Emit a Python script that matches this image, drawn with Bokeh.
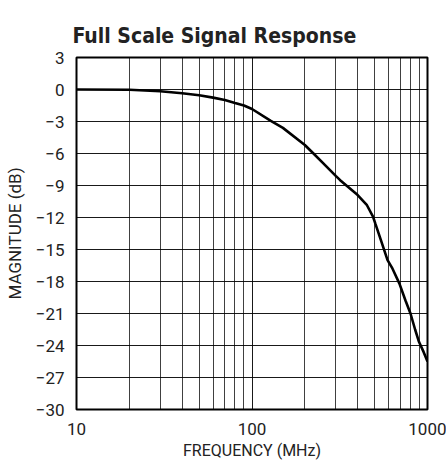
from bokeh.plotting import figure
from bokeh.models import FixedTicker, Title, Range1d, LinearAxis
from bokeh.embed import file_html
from bokeh.resources import INLINE

# data
freq_mhz = [10, 20, 30, 40, 50, 60, 70, 80, 90, 100, 128, 150, 200, 224, 260, 300,
            318, 400, 452, 490, 505, 542, 592, 632, 692, 750, 800, 850, 894, 950, 1000]
magnitude_db = [0.0, -0.03, -0.16, -0.35, -0.54, -0.76, -0.98, -1.26, -1.5, -1.83, -2.95,
                -3.6, -5.2, -6.0, -7.07, -8.1, -8.5, -9.9, -10.85, -11.95, -12.6, -14.1,
                -16.0, -16.8, -18.2, -19.8, -21.0, -22.5, -23.65, -24.6, -25.5]

x_major = [10, 100, 1000]
x_minor = [20, 30, 40, 50, 60, 70, 80, 90, 200, 300, 400, 500, 600, 700, 800, 900]
y_ticks = list(range(-30, 4, 3))

TITLE_FONT = "DejaVu Sans Condensed"
FONT = "Roboto"

p = figure(width=446, height=462, x_axis_type="log", output_backend="svg",
           toolbar_location=None, x_range=Range1d(10, 1000), y_range=Range1d(-30, 3),
           min_border_left=76, min_border_right=19, min_border_top=57, min_border_bottom=53)

xax = p.below[0]
yax = p.left[0]
xax.ticker = FixedTicker(ticks=x_major, minor_ticks=x_minor)
yax.ticker = FixedTicker(ticks=y_ticks)

# empty, invisible axis used only as a spacer between the frame and the title
spacer = LinearAxis(ticker=FixedTicker(ticks=[]), axis_line_color=None,
                    major_tick_line_color=None, minor_tick_line_color=None,
                    major_tick_in=0, major_tick_out=16, minor_tick_in=0, minor_tick_out=0,
                    major_label_standoff=0)
p.add_layout(spacer, "above")
p.add_layout(Title(text="Full Scale Signal Response", text_font=TITLE_FONT, text_font_size="21px",
                   text_font_style="bold", text_color="#222222", align="left", offset=-4,
                   vertical_align="top", standoff=16), "above")

p.line(freq_mhz, magnitude_db, line_color="black", line_width=2.6)

yax.major_label_overrides = {v: (str(v).replace("-", "\u2212")) for v in y_ticks}
xax.major_label_overrides = {v: str(v) for v in x_major}

for ax in (xax, yax):
    ax.axis_line_color = None
    ax.major_tick_line_color = None
    ax.minor_tick_line_color = None
    ax.major_tick_out = 0
    ax.minor_tick_out = 0
    ax.major_label_text_font = FONT
    ax.major_label_text_font_size = "17px"
    ax.major_label_text_color = "#222222"
    ax.axis_label_text_font = FONT
    ax.axis_label_text_font_style = "normal"
    ax.axis_label_text_color = "#222222"

xax.axis_label_text_font_size = "16px"
yax.axis_label_text_font_size = "17px"
xax.axis_label = "FREQUENCY (MHz)"
yax.axis_label = "MAGNITUDE (dB)"
xax.major_label_standoff = 13
xax.axis_label_standoff = 3
yax.major_label_standoff = 12
yax.axis_label_standoff = 8

p.xgrid.grid_line_color = "black"
p.xgrid.grid_line_alpha = 0.9
p.xgrid.minor_grid_line_color = "black"
p.xgrid.minor_grid_line_alpha = 0.75
p.ygrid.grid_line_color = "black"
p.ygrid.grid_line_alpha = 0.9

p.outline_line_color = "black"
p.outline_line_width = 2
p.outline_line_alpha = 1
p.background_fill_color = "white"
p.border_fill_color = "white"

open("out.html", "w").write(file_html(p, INLINE))
